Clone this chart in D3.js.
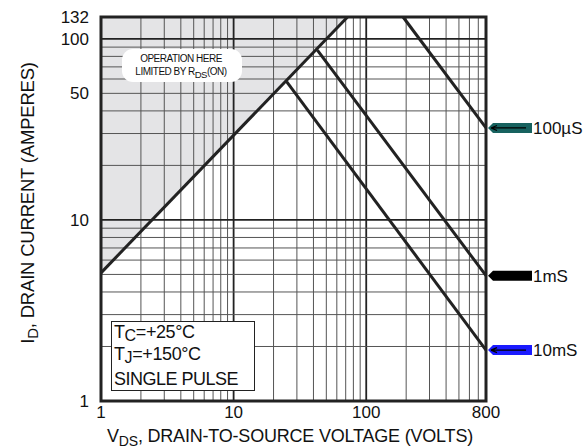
<!DOCTYPE html>
<html>
<head>
<meta charset="utf-8">
<script src="https://cdn.jsdelivr.net/npm/d3@7"></script>
<style>
  body { margin: 0; background: #fff; }
  text { font-family: "Liberation Sans", Arial, sans-serif; fill: #111; }
</style>
</head>
<body>
<svg id="soa" width="587" height="448"></svg>
<script>
const xTicks = [1, 10, 100, 800];
const yTicks = [1, 10, 50, 100, 132];

// R_DS(on) limit line (volts, amps)
const rdsV = [1, 72.3];
const rdsI = [5.1, 132];

// pulse lines: knee point on the rds line, then down to 800 V
const pulseLabels = ["100µS", "1mS", "10mS"];
const pulseColors = ["#17625f", "#000000", "#1a1aff"];
const pulseV = [[189.5, 800], [42.8, 800], [25.1, 800]];
const pulseI = [[132, 32.2], [86.7, 4.92], [58, 1.91]];

const svg = d3.select("#soa");
const x = d3.scaleLog().domain([1, 800]).range([101, 486]);
const y = d3.scaleLog().domain([1, 132]).range([401, 17]);

const plot = svg.append("g");

// shaded region above rds line
plot.append("path")
  .attr("d", d3.line()([
    [x(rdsV[0]), y(rdsI[0])],
    [x(rdsV[1]), y(rdsI[1])],
    [x(1), y(132)]
  ]) + "Z")
  .attr("fill", "#e4e4e6");

// grid
const isDecade = (d) => Math.abs(Math.log10(d) - Math.round(Math.log10(d))) < 1e-9;
plot.selectAll("line.vg")
  .data(x.ticks())
  .enter()
  .append("line")
  .attr("x1", (d) => x(d))
  .attr("x2", (d) => x(d))
  .attr("y1", y(1))
  .attr("y2", y(132))
  .attr("stroke", (d) => isDecade(d) ? "#222" : "#555")
  .attr("stroke-width", (d) => isDecade(d) ? 1.8 : 1);

plot.selectAll("line.hg")
  .data(y.ticks())
  .enter()
  .append("line")
  .attr("y1", (d) => y(d))
  .attr("y2", (d) => y(d))
  .attr("x1", x(1))
  .attr("x2", x(800))
  .attr("stroke", (d) => isDecade(d) ? "#222" : "#555")
  .attr("stroke-width", (d) => isDecade(d) ? 1.8 : 1);

// operation label
const opBox = plot.append("g");
opBox.append("rect")
  .attr("x", 122).attr("y", 49).attr("width", 120).attr("height", 33)
  .attr("rx", 11).attr("fill", "#fff");
opBox.append("text")
  .attr("x", 181).attr("y", 62)
  .attr("text-anchor", "middle")
  .attr("font-size", 10).attr("letter-spacing", -0.5)
  .text("OPERATION HERE");
const lim = opBox.append("text")
  .attr("x", 181).attr("y", 75)
  .attr("text-anchor", "middle")
  .attr("font-size", 10).attr("letter-spacing", -0.5);
lim.append("tspan").text("LIMITED BY R");
lim.append("tspan").attr("dy", 2.5).attr("font-size", 9.5).text("DS");
lim.append("tspan").attr("dy", -2.5).text("(ON)");

// curves
const line = d3.line().x((d) => x(d[0])).y((d) => y(d[1]));
plot.append("path")
  .attr("d", line(d3.zip(rdsV, rdsI)))
  .attr("fill", "none").attr("stroke", "#222").attr("stroke-width", 3);
pulseV.forEach((v, i) => {
  plot.append("path")
    .attr("d", line(d3.zip(v, pulseI[i])))
    .attr("fill", "none").attr("stroke", "#222").attr("stroke-width", 3);
});

// conditions box
const cond = plot.append("g");
cond.append("rect")
  .attr("x", 111.5).attr("y", 321.5).attr("width", 143).attr("height", 69)
  .attr("fill", "#fff").attr("stroke", "#222").attr("stroke-width", 1);
const t1 = cond.append("text").attr("x", 114).attr("y", 338).attr("font-size", 18)
  .attr("letter-spacing", -0.4);
t1.append("tspan").text("T");
t1.append("tspan").attr("dy", 3).attr("font-size", 16).text("C");
t1.append("tspan").attr("dy", -3).text("=+25°C");
const t2 = cond.append("text").attr("x", 114).attr("y", 360).attr("font-size", 18)
  .attr("letter-spacing", -0.4);
t2.append("tspan").text("T");
t2.append("tspan").attr("dy", 3).attr("font-size", 16).text("J");
t2.append("tspan").attr("dy", -3).text("=+150°C");
cond.append("text").attr("x", 114).attr("y", 385).attr("font-size", 18)
  .attr("letter-spacing", -0.5).text("SINGLE PULSE");

// border
plot.append("rect")
  .attr("x", x(1)).attr("y", y(132))
  .attr("width", x(800) - x(1)).attr("height", y(1) - y(132))
  .attr("fill", "none").attr("stroke", "#222").attr("stroke-width", 3);

// tick labels
svg.selectAll("text.xt")
  .data(xTicks)
  .enter()
  .append("text")
  .attr("x", (d) => x(d))
  .attr("y", 418)
  .attr("text-anchor", "middle")
  .attr("font-size", 17)
  .text((d) => d);

svg.selectAll("text.yt")
  .data(yTicks)
  .enter()
  .append("text")
  .attr("x", 89)
  .attr("y", (d) => y(d) + 6)
  .attr("text-anchor", "end")
  .attr("font-size", 17)
  .text((d) => d);

// axis titles
const xt = svg.append("text")
  .attr("x", 290).attr("y", 442)
  .attr("text-anchor", "middle")
  .attr("font-size", 18).attr("letter-spacing", -0.2);
xt.append("tspan").text("V");
xt.append("tspan").attr("dy", 4).attr("font-size", 14).text("DS");
xt.append("tspan").attr("dy", -4).text(", DRAIN-TO-SOURCE VOLTAGE (VOLTS)");

const yt = svg.append("text")
  .attr("transform", "translate(34,203) rotate(-90)")
  .attr("text-anchor", "middle")
  .attr("font-size", 18.5).attr("letter-spacing", -0.2);
yt.append("tspan").text("I");
yt.append("tspan").attr("dy", 4).attr("font-size", 15).text("D");
yt.append("tspan").attr("dy", -4).text(", DRAIN CURRENT (AMPERES)");

// pulse arrows on the right
const arrows = svg.selectAll("g.arrow")
  .data(pulseLabels)
  .enter()
  .append("g")
  .attr("transform", (_, i) => `translate(488,${y(pulseI[i][1])})`);
arrows.append("path")
  .attr("d", "M0,0L5,-5L44,-5L44,5L5,5Z")
  .attr("fill", (_, i) => pulseColors[i]);
arrows.append("path")
  .attr("d", "M3,0L38,0M3,0L9,-2.5M3,0L9,2.5")
  .attr("fill", "none").attr("stroke", "#000").attr("stroke-width", 1.2);
arrows.append("text")
  .attr("x", 45).attr("y", 6)
  .attr("font-size", 17)
  .text((d) => d);
</script>
</body>
</html>
